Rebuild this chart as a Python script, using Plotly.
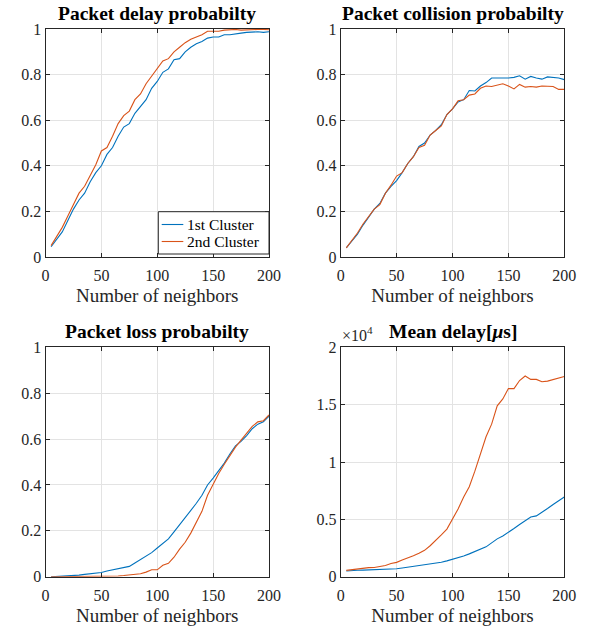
import plotly.graph_objects as go

x = list(range(5, 205, 5))

delay_c1 = [0.045, 0.08, 0.11, 0.16, 0.21, 0.25, 0.28, 0.33, 0.37, 0.40,
            0.45, 0.48, 0.53, 0.57, 0.585, 0.63, 0.66, 0.69, 0.74, 0.77,
            0.81, 0.825, 0.865, 0.87, 0.90, 0.92, 0.935, 0.945, 0.96, 0.965,
            0.965, 0.975, 0.975, 0.98, 0.982, 0.985, 0.987, 0.988, 0.985, 0.988]
delay_c2 = [0.05, 0.09, 0.13, 0.18, 0.23, 0.28, 0.31, 0.36, 0.405, 0.465,
            0.48, 0.53, 0.585, 0.62, 0.64, 0.69, 0.715, 0.76, 0.795, 0.83,
            0.86, 0.87, 0.90, 0.92, 0.94, 0.955, 0.965, 0.975, 0.99, 0.99,
            0.99, 0.995, 0.997, 0.998, 0.995, 0.997, 0.998, 0.998, 0.998, 0.997]

coll_c1 = [0.04, 0.07, 0.10, 0.14, 0.175, 0.21, 0.235, 0.28, 0.31, 0.335,
           0.37, 0.41, 0.44, 0.485, 0.50, 0.535, 0.555, 0.58, 0.625, 0.65,
           0.68, 0.69, 0.73, 0.728, 0.75, 0.765, 0.785, 0.785, 0.783, 0.785,
           0.788, 0.795, 0.78, 0.792, 0.785, 0.78, 0.79, 0.788, 0.785, 0.778]
coll_c2 = [0.04, 0.07, 0.105, 0.145, 0.18, 0.21, 0.23, 0.28, 0.315, 0.355,
           0.37, 0.41, 0.44, 0.48, 0.49, 0.535, 0.555, 0.575, 0.625, 0.65,
           0.685, 0.69, 0.71, 0.715, 0.74, 0.75, 0.748, 0.755, 0.76, 0.75,
           0.737, 0.757, 0.745, 0.748, 0.745, 0.75, 0.748, 0.748, 0.735, 0.735]

loss_c1 = [0.0, 0.001, 0.002, 0.003, 0.005, 0.007, 0.01, 0.012, 0.017, 0.018,
           0.025, 0.03, 0.035, 0.04, 0.045, 0.06, 0.075, 0.09, 0.105, 0.125,
           0.145, 0.165, 0.195, 0.225, 0.26, 0.285, 0.32, 0.355, 0.40, 0.43,
           0.46, 0.495, 0.535, 0.57, 0.59, 0.615, 0.645, 0.665, 0.675, 0.70]
loss_c2 = [0.0, 0.0, 0.0, 0.0, 0.0, 0.001, 0.001, 0.001, 0.001, 0.002,
           0.002, 0.002, 0.003, 0.005, 0.007, 0.01, 0.013, 0.02, 0.03, 0.03,
           0.05, 0.058, 0.085, 0.12, 0.15, 0.19, 0.235, 0.285, 0.355, 0.405,
           0.45, 0.49, 0.53, 0.565, 0.595, 0.625, 0.655, 0.675, 0.68, 0.705]

mdelay_c1 = [500, 550, 560, 570, 580, 590, 620, 640, 660, 690,
             760, 830, 880, 940, 1010, 1080, 1150, 1260, 1380, 1500,
             1620, 1800, 1990, 2200, 2380, 2600, 2950, 3300, 3550, 3850,
             4200, 4550, 4850, 5200, 5300, 5600, 5950, 6300, 6600, 6950]
mdelay_c2 = [550, 620, 700, 760, 790, 800, 900, 980, 1150, 1250,
             1450, 1620, 1820, 2050, 2300, 2700, 3150, 3650, 4150, 5050,
             5900, 6950, 7850, 9200, 10700, 12200, 13300, 14900, 15500, 16400,
             16400, 17100, 17500, 17200, 17200, 17000, 17050, 17200, 17350, 17450]

series_names = ["1st Cluster", "2nd Cluster"]
titles = ["Packet delay probabilty", "Packet collision probabilty",
          "Packet loss probabilty", "Mean delay[<i>\u03bc</i>s]"]
xlabel = "Number of neighbors"
prob_ticks = [0, 0.2, 0.4, 0.6, 0.8, 1]
prob_ticktext = ["0", "0.2", "0.4", "0.6", "0.8", "1"]
md_ticks = [0, 5000, 10000, 15000, 20000]
md_ticktext = ["0", "0.5", "1", "1.5", "2"]
x_ticks = [0, 50, 100, 150, 200]

BLUE = "#0072BD"
ORANGE = "#D95319"
COLORS = [BLUE, ORANGE]
FONT = "Liberation Serif"
AX = "#262626"

W, H = 595, 626


def px(v):
    return v / W


def py(v):
    return (H - v) / H


xd_left = [px(45.5), px(269)]
xd_right = [px(340.7), px(564.3)]
yd_top = [py(257), py(29)]
yd_bot = [py(576.7), py(347.3)]

panels = [
    (delay_c1, delay_c2, xd_left, yd_top, [0, 1], prob_ticks, prob_ticktext),
    (coll_c1, coll_c2, xd_right, yd_top, [0, 1], prob_ticks, prob_ticktext),
    (loss_c1, loss_c2, xd_left, yd_bot, [0, 1], prob_ticks, prob_ticktext),
    (mdelay_c1, mdelay_c2, xd_right, yd_bot, [0, 20000], md_ticks, md_ticktext),
]

fig = go.Figure()
layout = {}
annotations = []
shapes = []
for i, (s1, s2, xd, yd, yr, tv, tt) in enumerate(panels):
    n = "" if i == 0 else str(i + 1)
    xa, ya = "x" + n, "y" + n
    for k, s in enumerate([s1, s2]):
        fig.add_trace(go.Scatter(x=x, y=s, mode="lines", xaxis=xa, yaxis=ya,
                                 name=series_names[k], showlegend=False,
                                 line=dict(color=COLORS[k], width=1.1)))
    common = dict(showline=True, linecolor=AX, linewidth=1, mirror="allticks",
                  ticks="inside", ticklen=4, tickcolor=AX, showgrid=True,
                  gridcolor="#e3e3e3", gridwidth=1, zeroline=False,
                  automargin=False,
                  tickfont=dict(family=FONT, size=16, color=AX))
    layout["xaxis" + n] = dict(common, domain=xd, range=[0, 200], tickvals=x_ticks,
                               anchor=ya, ticklabelstandoff=4,
                               title=dict(text=xlabel, standoff=5,
                                          font=dict(family=FONT, size=19, color=AX)))
    layout["yaxis" + n] = dict(common, domain=yd, range=yr, tickvals=tv, ticktext=tt,
                               anchor=xa)
    annotations.append(dict(text="<b>" + titles[i] + "</b>", xref="paper", yref="paper",
                            x=(xd[0] + xd[1]) / 2, y=yd[1], yanchor="bottom",
                            xanchor="center", showarrow=False, yshift=3,
                            font=dict(family=FONT, size=19.5, color="black")))

annotations.append(dict(text="\u00d710<sup>4</sup>", xref="paper", yref="paper",
                        x=xd_right[0], y=yd_bot[1], xanchor="left", yanchor="bottom",
                        showarrow=False, yshift=1, xshift=-1,
                        font=dict(family=FONT, size=16, color=AX)))

# legend box (drawn manually to match the reference's compact legend)
shapes.append(dict(type="rect", xref="paper", yref="paper",
                   x0=px(158.3), x1=px(269), y0=py(254), y1=py(211.7),
                   line=dict(color=AX, width=1), fillcolor="white", layer="above"))
for k, yrow in enumerate([224.5, 241.5]):
    shapes.append(dict(type="line", xref="paper", yref="paper",
                       x0=px(161.7), x1=px(183.3), y0=py(yrow), y1=py(yrow),
                       line=dict(color=COLORS[k], width=1.1), layer="above"))
    annotations.append(dict(text=series_names[k], xref="paper", yref="paper",
                            x=px(184.5), y=py(yrow), xanchor="left", yanchor="middle",
                            showarrow=False,
                            font=dict(family=FONT, size=15.5, color="black")))

fig.update_layout(
    width=W, height=H, margin=dict(l=0, r=0, t=0, b=0, autoexpand=False),
    paper_bgcolor="white", plot_bgcolor="white",
    font=dict(family=FONT),
    showlegend=False,
    annotations=annotations,
    shapes=shapes,
    **layout,
)

fig.write_html("out.html", config={"displayModeBar": False},
               post_script="document.body.style.margin='0';")
